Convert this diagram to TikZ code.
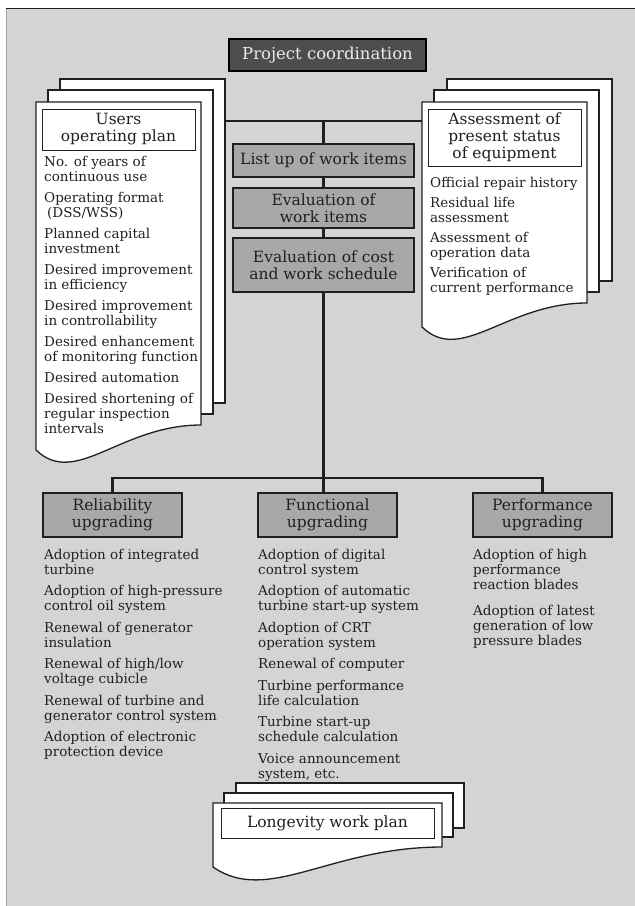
\documentclass[tikz,border=0pt]{standalone}
\usepackage{fontspec}
\setmainfont{DejaVu Serif}
\usetikzlibrary{calc}
\definecolor{panel}{HTML}{D3D4D6}
\definecolor{boxgray}{HTML}{A7A8AA}
\definecolor{darkbox}{HTML}{4D4D4F}
\definecolor{ink}{HTML}{231F20}
\newcommand\docfront[6]{% name, x1, ytop, x2, yr, yl
  \draw[sheet] (#2,#3) -- (#4,#3) -- (#4,#5)
    .. controls ({#4-0.49*(#4-#2)},#5) and ({#2+0.24*(#4-#2)},{#6+38}) .. (#2,#6) -- cycle;
  \coordinate (#1) at (#2,#3);}
\tikzset{
  sheet/.style={draw=ink, line width=1.3pt, fill=white},
  itemtext/.style={anchor=north west, inner sep=0pt, align=left, text=ink,
    font=\fontsize{13.5}{15}\selectfont},
  titletext/.style={align=center, text=ink, inner sep=0pt,
    font=\fontsize{15.5}{17}\selectfont},
  graybox/.style={titletext, draw=ink, line width=1.3pt, fill=boxgray},
  titlebox/.style={titletext, draw=ink, line width=1pt, fill=white},
  conn/.style={draw=ink, line width=2.3pt},
}
\begin{document}
\begin{tikzpicture}[x=1pt,y=-1pt]
\useasboundingbox (0,0) rectangle (635,906);
% panel
\fill[panel] (6,8) rectangle (635,906);
\draw[gray!70, line width=0.8pt] (6,906) -- (6,8);
\draw[ink, line width=0.8pt] (6,8) -- (635,8);

% connectors first (behind)
\coordinate (busL) at (225,121);
\coordinate (busR) at (422,121);
\coordinate (trunkTop) at (323.5,121);
\draw[conn] (busL) -- (busR);

% project coordination
\node[draw=black, line width=2pt, fill=darkbox, text=white!92!black, inner sep=0pt,
  minimum width=197, minimum height=32, font=\fontsize{16.5}{18}\selectfont]
  (proj) at (327.5,55) {Project coordination};

% left document
\draw[sheet] (60,79) rectangle (225,403);
\draw[sheet] (48,90) rectangle (213,414);
\docfront{ldoc}{36}{102}{201}{425}{450}
\node[titlebox, minimum width=153, minimum height=41] (ltitle) at (118.5,129.5)
  {Users\\operating plan};
\node[itemtext] (llist) at (44,156) {No. of years of\\continuous use\\[6pt]
Operating format\\\hspace{3pt}(DSS/WSS)\\[6pt]
Planned capital\\investment\\[6pt]
Desired improvement\\in efficiency\\[6pt]
Desired improvement\\in controllability\\[6pt]
Desired enhancement\\of monitoring function\\[6pt]
Desired automation\\[6pt]
Desired shortening of\\regular inspection\\intervals};

% right document
\draw[sheet] (447,79) rectangle (612,281);
\draw[sheet] (434,90) rectangle (599,292);
\docfront{rdoc}{422}{102}{587}{303}{327}
\node[titlebox, minimum width=153, minimum height=57] (rtitle) at (504.5,137.5)
  {Assessment of\\present status\\of equipment};
\node[itemtext] (rlist) at (430,177) {Official repair history\\[5pt]
Residual life\\assessment\\[5pt]
Assessment of\\operation data\\[5pt]
Verification of\\current performance};

% central chain
\node[graybox, minimum width=181, minimum height=33] (list) at (323.5,160.5)
  {List up of work items};
\node[graybox, minimum width=181, minimum height=40] (eval) at (323.5,208)
  {Evaluation of\\work items};
\node[graybox, minimum width=181, minimum height=54] (cost) at (323.5,265)
  {Evaluation of cost\\and work schedule};
\draw[conn] (trunkTop) -- (list.north);
\draw[conn] (list.south) -- (eval.north);
\draw[conn] (eval.south) -- (cost.north);

% bottom boxes
\node[graybox, minimum width=139, minimum height=44] (rel) at (112.5,515)
  {Reliability\\upgrading};
\node[graybox, minimum width=139, minimum height=44] (func) at (327.5,515)
  {Functional\\upgrading};
\node[graybox, minimum width=139, minimum height=44] (perf) at (542.5,515)
  {Performance\\upgrading};
\coordinate (busB) at (323.5,478);
\draw[conn] (cost.south) -- (busB);
\draw[conn] (rel.north) -- (rel.north |- busB) -- (perf.north |- busB) -- (perf.north);
\draw[conn] (busB) -- (busB |- func.north);

\node[itemtext] (rellist) at (44,549) {Adoption of integrated\\turbine\\[6.5pt]
Adoption of high-pressure\\control oil system\\[6.5pt]
Renewal of generator\\insulation\\[6.5pt]
Renewal of high/low\\voltage cubicle\\[6.5pt]
Renewal of turbine and\\generator control system\\[6.5pt]
Adoption of electronic\\protection device};
\node[itemtext] (funclist) at (258,549) {Adoption of digital\\control system\\[6.5pt]
Adoption of automatic\\turbine start-up system\\[6.5pt]
Adoption of CRT\\operation system\\[6.5pt]
Renewal of computer\\[6.5pt]
Turbine performance\\life calculation\\[6.5pt]
Turbine start-up\\schedule calculation\\[6.5pt]
Voice announcement\\system, etc.};
\node[itemtext] (perflist) at (473,549) {Adoption of high\\performance\\reaction blades\\[11pt]
Adoption of latest\\generation of low\\pressure blades};

% bottom document
\draw[sheet] (236,783) rectangle (464,828);
\draw[sheet] (224,793) rectangle (453,837);
\docfront{bdoc}{213}{803}{442}{847}{867}
\node[titlebox, minimum width=213, minimum height=30] (btitle) at (327.5,823)
  {Longevity work plan};
\end{tikzpicture}
\end{document}
